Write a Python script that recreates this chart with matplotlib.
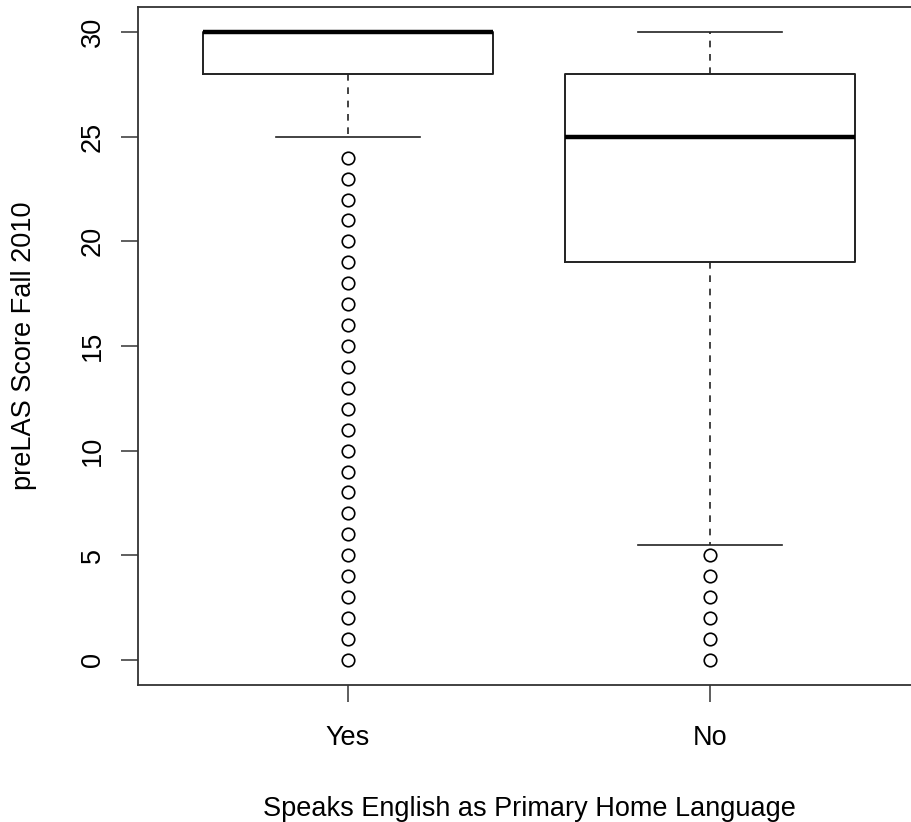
import matplotlib
matplotlib.use('Agg')
import matplotlib.pyplot as plt

# Box summary per group (R-style boxplot stats)
groups = ['Yes', 'No']
q1 = [28, 19]
medians = [30, 25]
q3 = [30, 28]
whisker_low = [25, 5.5]
whisker_high = [30, 30]
outliers_yes = list(range(0, 25))
outliers_no = list(range(0, 6))

plt.rcParams['font.family'] = ['Liberation Sans', 'DejaVu Sans']


def main():
    stats = []
    fliers = [outliers_yes, outliers_no]
    for i, name in enumerate(groups):
        stats.append({'label': name, 'q1': q1[i], 'med': medians[i], 'q3': q3[i],
                      'whislo': whisker_low[i], 'whishi': whisker_high[i],
                      'fliers': fliers[i]})

    fig = plt.figure(figsize=(9.12, 8.22), dpi=100)
    ax = fig.add_axes([138 / 912, 137 / 822, 782 / 912, 678 / 822])

    line_c = '#222222'
    ax.bxp(stats, positions=[1, 2], widths=0.8,
           boxprops=dict(color=line_c, linewidth=1.4),
           medianprops=dict(color='black', linewidth=3.2, solid_capstyle='butt'),
           whiskerprops=dict(color=line_c, linewidth=1.2, linestyle=(0, (4, 4))),
           capprops=dict(color=line_c, linewidth=1.2),
           capwidths=0.4,
           flierprops=dict(marker='o', markersize=9, markerfacecolor='none',
                           markeredgecolor='black', markeredgewidth=1.2))

    ax.set_xlim(0.42, 2.58)
    ax.set_ylim(-1.2, 31.2)
    ax.set_yticks([0, 5, 10, 15, 20, 25, 30])

    for s in ax.spines.values():
        s.set_color('#333333')
        s.set_linewidth(1.3)

    ax.tick_params(axis='both', direction='out', length=12, width=1.1,
                   color='#333333', labelsize=19.5)
    ax.tick_params(axis='y', pad=11)
    ax.tick_params(axis='x', pad=17)
    for lab in ax.get_yticklabels():
        lab.set_rotation(90)
        lab.set_va('center')

    ax.set_xlabel('Speaks English as Primary Home Language', fontsize=19.5, labelpad=32)
    ax.set_ylabel('preLAS Score Fall 2010', fontsize=19.5, labelpad=31)

    fig.savefig('out.png', dpi=100)


if __name__ == '__main__':
    main()
